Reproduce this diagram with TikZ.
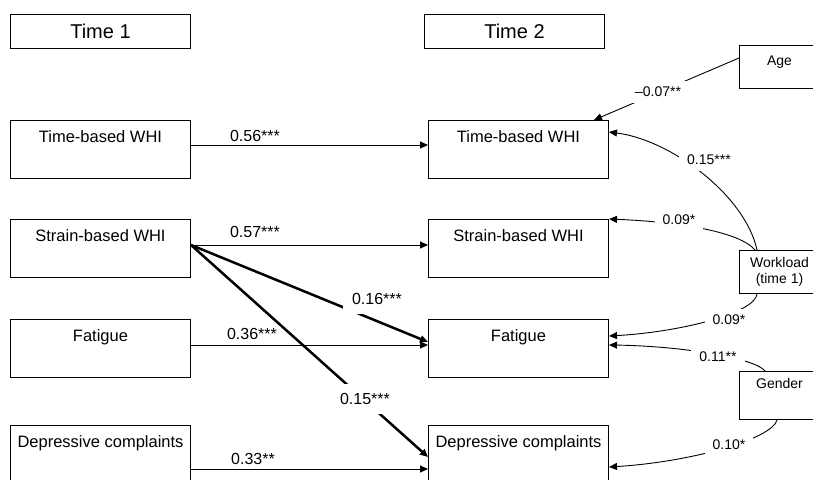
\documentclass[tikz,border=0pt]{standalone}
\usepackage{fontspec}
\setmainfont{Liberation Sans}
\usetikzlibrary{calc,arrows.meta}
\tikzset {>={Triangle[length=8pt,width=7pt]}}

\begin{document}
\begin{tikzpicture}[x=1pt,y=-1pt,
  timebox/.style={draw,line width=1pt,minimum width=180pt,minimum height=34pt,
    inner sep=0pt,font=\fontsize{20}{24}\selectfont},
  varbox/.style={draw,line width=1pt,minimum width=180pt,inner sep=0pt,
    text height=22pt,text depth=36pt,font=\fontsize{16.5}{19}\selectfont},
  ctrlbox/.style={draw,line width=1pt,minimum width=80pt,inner sep=0pt,
    font=\fontsize{14}{16}\selectfont},
  link/.style={->,line width=.9pt},
  strong/.style={->,line width=2.5pt},
  coef/.style={font=\fontsize{16}{19}\selectfont},
  bigcoef/.style={font=\fontsize{16}{19}\selectfont,fill=white,inner sep=9pt},
  smallcoef/.style={font=\fontsize{14}{16}\selectfont,fill=white,inner xsep=8pt,inner ysep=6pt}]
\useasboundingbox (0,0) rectangle (813,479);

\node[timebox,anchor=north west] (T1) at (10,14) {Time 1};
\node[timebox,anchor=north west] (T2) at (424,14) {Time 2};

\node[varbox,anchor=north west] (TB1) at (10,120) {Time-based WHI};
\node[varbox,anchor=north west] (SB1) at (10,219) {Strain-based WHI};
\node[varbox,anchor=north west] (FA1) at (10,319) {Fatigue};
\node[varbox,anchor=north west] (DC1) at (10,425) {Depressive complaints};

\node[varbox,anchor=north west] (TB2) at (428,120) {Time-based WHI};
\node[varbox,anchor=north west] (SB2) at (428,219) {Strain-based WHI};
\node[varbox,anchor=north west] (FA2) at (428,319) {Fatigue};
\node[varbox,anchor=north west] (DC2) at (428,425) {Depressive complaints};

\node[ctrlbox,anchor=north west,text height=20pt,text depth=23pt] (AGE) at (739,45) {Age};
\node[ctrlbox,anchor=north west,minimum height=43pt,align=center] (WL) at (739,250) {Workload\\(time 1)};
\node[ctrlbox,anchor=north west,text height=17pt,text depth=31pt] (GE) at (739,371) {Gender};

\draw[link] ($(TB1.north east)+(0,25)$) -- ($(TB2.north west)+(0,25)$);
\draw[link] ($(SB1.north east)+(0,26)$) -- ($(SB2.north west)+(0,26)$);
\draw[link] ($(FA1.north east)+(0,26)$) -- ($(FA2.north west)+(0,26)$);
\draw[link] ($(DC1.north east)+(0,44)$) -- ($(DC2.north west)+(0,44)$);

\draw[strong] ($(SB1.north east)+(0,26)$) -- ($(FA2.north west)+(0,23)$);
\draw[strong] ($(SB1.north east)+(0,26)$) -- ($(DC2.north west)+(0,32)$);

\draw[link] ($(AGE.north west)+(0,13)$) -- ($(TB2.north east)+(-15,0)$);
\draw[link] ($(WL.north west)+(18,0)$) .. controls +(-12,-55) and +(62,8) .. ($(TB2.north east)+(0,12)$);
\draw[link] ($(WL.north west)+(16,0)$) .. controls +(-15,-18) and +(72,3) .. (SB2.north east);
\draw[link] ($(WL.south west)+(18,0)$) .. controls +(-2,19) and +(72,-4) .. ($(FA2.north east)+(0,17)$);
\draw[link] ($(GE.north west)+(26,0)$) .. controls +(-10,-13) and +(72,1) .. ($(FA2.north east)+(0,26)$);
\draw[link] ($(GE.south west)+(38,0)$) .. controls +(-5,19) and +(82,-5) .. ($(DC2.north east)+(0,42)$);

\node[coef] (c1) at (255,136) {0.56***};
\node[coef] (c2) at (255,232) {0.57***};
\node[coef] (c3) at (252,334) {0.36***};
\node[coef] (c4) at (253,459) {0.33**};
\node[bigcoef] (c5) at (377,299) {0.16***};
\node[bigcoef] (c6) at (365,399) {0.15***};

\node[smallcoef] (c7) at (658,92) {–0.07**};
\node[smallcoef] (c8) at (709,160) {0.15***};
\node[smallcoef] (c9) at (679,220) {0.09*};
\node[smallcoef] (c10) at (729,320) {0.09*};
\node[smallcoef] (c11) at (718,357) {0.11**};
\node[smallcoef] (c12) at (729,445) {0.10*};
\end{tikzpicture}
\end{document}
